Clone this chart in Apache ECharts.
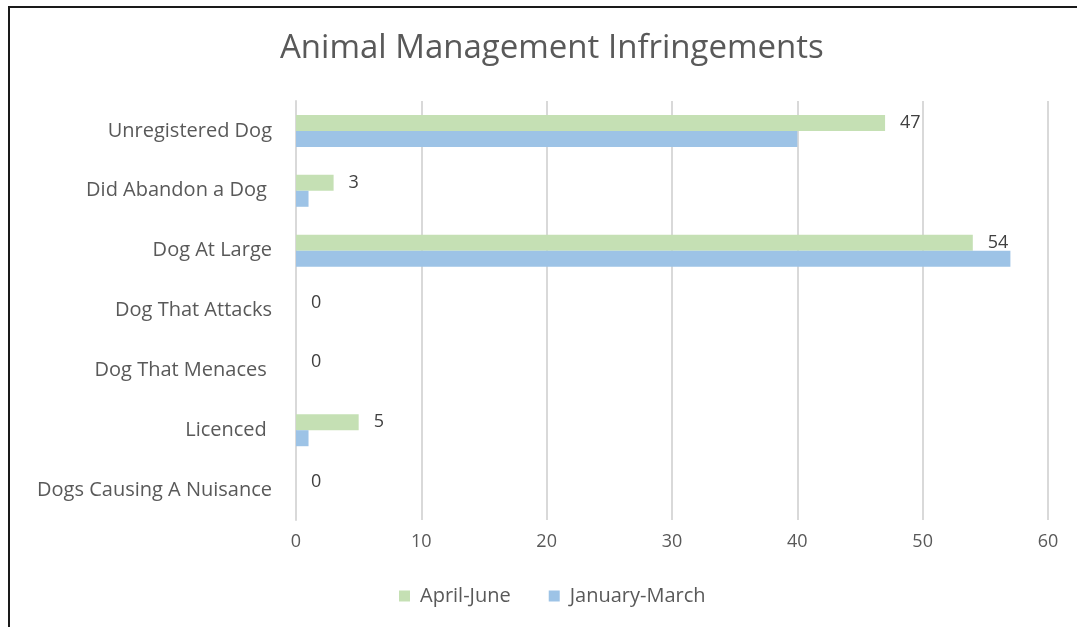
<!DOCTYPE html>
<html>
<head>
<meta charset="utf-8">
<script src="https://cdn.jsdelivr.net/npm/echarts@6/dist/echarts.min.js"></script>
<style>
  html, body { margin: 0; padding: 0; width: 1077px; height: 627px; overflow: hidden; background: #fff; }
  #marco { position: absolute; left: 8px; top: 6px; width: 1200px; height: 800px; border: 2px solid #1a1a1a; box-sizing: border-box; }
  #grafica { position: absolute; left: 0; top: 0; width: 1077px; height: 627px; }
</style>
</head>
<body>
<div id="marco"></div>
<div id="grafica"></div>
<script>
// datos del grafico
var categorias = ['Unregistered Dog', 'Did Abandon a Dog ', 'Dog At Large', 'Dog That Attacks', 'Dog That Menaces ', 'Licenced ', 'Dogs Causing A Nuisance'];
var abrilJunio = [47, 3, 54, 0, 0, 5, 0];
var eneroMarzo = [40, 1, 57, 0, 0, 1, 0];
var ticksX = [0, 10, 20, 30, 40, 50, 60];

var fuente = '"Open Sans", "Noto Sans", sans-serif';

var grafico = echarts.init(document.getElementById('grafica'));

var option = {
    animation: false,
    title: {
        text: 'Animal Management Infringements',
        left: 275,
        top: 27,
        textStyle: { fontFamily: fuente, fontSize: 33, fontWeight: 'normal', color: '#595959' }
    },
    legend: {
        bottom: 16,
        left: 394,
        itemWidth: 11,
        itemHeight: 11,
        itemGap: 38,
        icon: 'rect',
        textStyle: { fontFamily: fuente, fontSize: 20, color: '#595959', padding: [0, 0, 0, 5] },
        data: ['April-June', 'January-March']
    },
    grid: { left: 296, right: 29, top: 101, bottom: 107 },
    xAxis: {
        type: 'value',
        min: ticksX[0],
        max: ticksX[ticksX.length - 1],
        interval: 10,
        axisLine: { show: false },
        axisTick: { show: false },
        axisLabel: { fontFamily: fuente, fontSize: 18, color: '#595959', margin: 13 },
        splitLine: { lineStyle: { color: '#d9d9d9', width: 2 } }
    },
    yAxis: {
        type: 'category',
        inverse: true,
        data: categorias,
        axisLine: { show: true, lineStyle: { color: '#d9d9d9', width: 2 } },
        axisTick: { show: false },
        axisLabel: { fontFamily: fuente, fontSize: 20, color: '#595959', margin: 24 }
    },
    series: [
        {
            name: 'April-June',
            type: 'bar',
            data: abrilJunio,
            barWidth: 16,
            barGap: '0%',
            itemStyle: { color: '#c5e0b4' },
            label: {
                show: true,
                position: 'right',
                distance: 15,
                fontFamily: fuente,
                fontSize: 18,
                color: '#404040'
            }
        },
        {
            name: 'January-March',
            type: 'bar',
            data: eneroMarzo,
            barWidth: 16,
            barGap: '0%',
            itemStyle: { color: '#9dc3e6' }
        }
    ]
};

grafico.setOption(option);
</script>
</body>
</html>
